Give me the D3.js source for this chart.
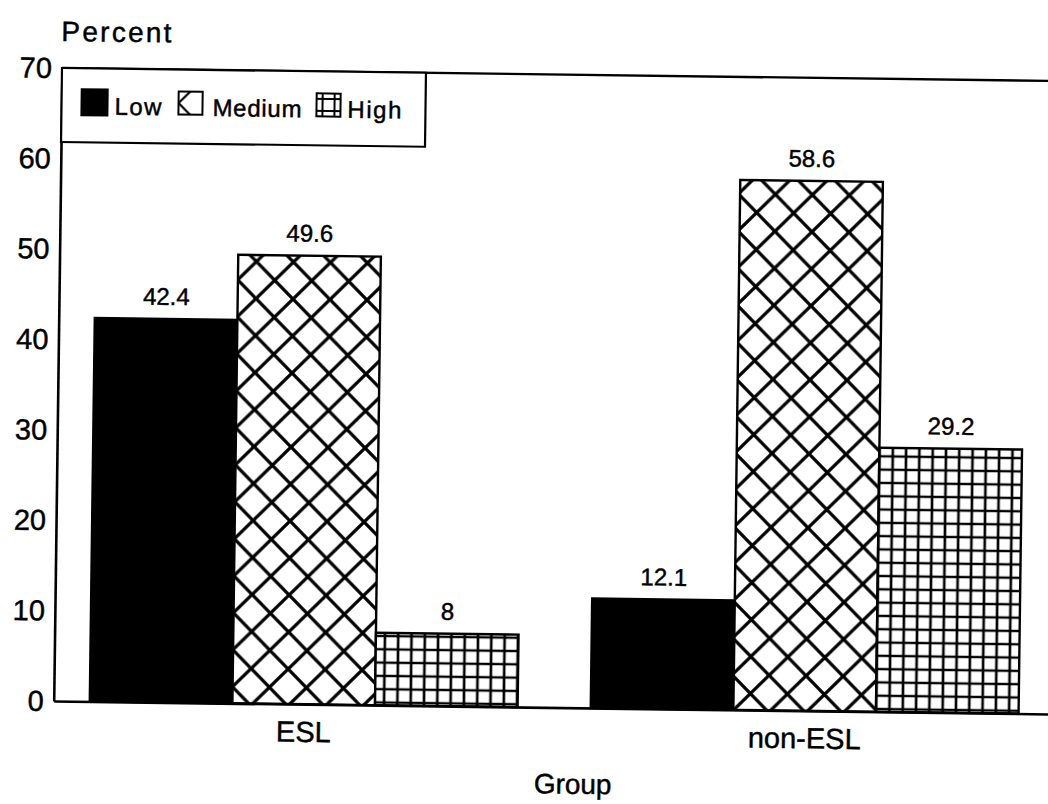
<!DOCTYPE html>
<html>
<head>
<meta charset="utf-8">
<script src="https://cdn.jsdelivr.net/npm/d3@7"></script>
<style>
  html, body { margin: 0; padding: 0; background: #fff; }
  svg { display: block; }
  text { font-family: "Liberation Sans", Arial, Helvetica, sans-serif; fill: #000; stroke: #000; stroke-width: 0.45px; }
</style>
</head>
<body>
<script>
// ---- data ----
const groups = ["ESL", "non-ESL"];
const series = ["Low", "Medium", "High"];
const lowValues = [42.4, 12.1];
const mediumValues = [49.6, 58.6];
const highValues = [8, 29.2];
const yTicks = [0, 10, 20, 30, 40, 50, 60, 70];
const yTitle = "Percent";
const xTitle = "Group";

const valuesBySeries = { Low: lowValues, Medium: mediumValues, High: highValues };

// ---- layout ----
const W = 1048, H = 804;
const mLeft = 62, mRight = 1063, mTop = 68, mBottom = 701;

const svg = d3.select("body").append("svg").attr("width", W).attr("height", H);
const defs = svg.append("defs");

// crosshatch (diamond) pattern
function hatchPattern(id, size, x, y, sw) {
  const p = defs.append("pattern").attr("id", id)
    .attr("patternUnits", "userSpaceOnUse")
    .attr("width", size).attr("height", size)
    .attr("x", x).attr("y", y);
  p.append("rect").attr("width", size).attr("height", size).attr("fill", "#fff");
  const s = size, e = 10;
  const d = [
    `M${-e},${-e}L${s + e},${s + e}`,
    `M${s - e},${-e}L${s + e},${e}`,
    `M${-e},${s - e}L${e},${s + e}`,
    `M${-e},${s + e}L${s + e},${-e}`,
    `M${-e},${e}L${e},${-e}`,
    `M${s - e},${s + e}L${s + e},${s - e}`
  ].join("");
  p.append("path").attr("d", d).attr("stroke", "#000").attr("stroke-width", sw).attr("fill", "none");
}
function gridPattern(id, size, x, y, sw) {
  const p = defs.append("pattern").attr("id", id)
    .attr("patternUnits", "userSpaceOnUse")
    .attr("width", size).attr("height", size)
    .attr("x", x).attr("y", y);
  p.append("rect").attr("width", size).attr("height", size).attr("fill", "#fff");
  p.append("path")
    .attr("d", `M${size / 2},0V${size}M0,${size / 2}H${size}`)
    .attr("stroke", "#000").attr("stroke-width", sw).attr("fill", "none");
}

hatchPattern("hatch", 37, 0, 0, 3.3);
gridPattern("grid", 13.3, 0, 0, 2.6);

const fills = { Low: "#000", Medium: "url(#hatch)", High: "url(#grid)" };

// whole chart slightly rotated like the scanned original
const g = svg.append("g").attr("transform", `rotate(0.75 ${mLeft} ${mTop})`);

// scales
const x0 = d3.scaleBand().domain(groups).range([mLeft, mRight])
  .paddingInner(0.146).paddingOuter(0.072);
const x1 = d3.scaleBand().domain(series).range([0, x0.bandwidth()]).padding(0);
const y = d3.scaleLinear().domain([0, 70]).range([mBottom, mTop]);

// top frame line
g.append("line").attr("x1", mLeft).attr("x2", mRight).attr("y1", mTop).attr("y2", mTop)
  .attr("stroke", "#000").attr("stroke-width", 2.4);

// bars
const rows = [];
groups.forEach((grp, i) => series.forEach(s => rows.push({ grp, s, v: valuesBySeries[s][i] })));

g.selectAll("rect.bar").data(rows).join("rect")
  .attr("class", "bar")
  .attr("x", d => x0(d.grp) + x1(d.s))
  .attr("y", d => y(d.v))
  .attr("width", x1.bandwidth())
  .attr("height", d => y(0) - y(d.v))
  .attr("fill", d => fills[d.s])
  .attr("stroke", "#000").attr("stroke-width", 2.4);

// value labels
g.selectAll("text.val").data(rows).join("text")
  .attr("class", "val")
  .attr("x", d => x0(d.grp) + x1(d.s) + x1.bandwidth() / 2)
  .attr("y", d => y(d.v) - 14)
  .attr("text-anchor", "middle")
  .attr("font-size", 24)
  .text(d => String(d.v));

// y axis
const yAxis = g.append("g").attr("transform", `translate(${mLeft},0)`)
  .call(d3.axisLeft(y).tickValues(yTicks).tickSize(0).tickSizeOuter(0).tickPadding(10).tickFormat(d3.format("d")));
yAxis.select(".domain").attr("stroke", "#000").attr("stroke-width", 2.6);
yAxis.selectAll("text").attr("font-size", 29).attr("font-family", null).attr("dy", "0.33em");

// x axis
const xAxis = g.append("g").attr("transform", `translate(0,${mBottom})`)
  .call(d3.axisBottom(x0).tickSize(0).tickSizeOuter(0).tickPadding(17));
xAxis.select(".domain").attr("stroke", "#000").attr("stroke-width", 2.6);
xAxis.selectAll("text").attr("font-size", 29).attr("font-family", null);

// axis titles
g.append("text").attr("x", 61).attr("y", 41).attr("font-size", 28)
  .attr("textLength", 110).text(yTitle);
g.append("text").attr("x", 582).attr("y", 787).attr("text-anchor", "middle")
  .attr("font-size", 28).text(xTitle);

// legend
const lg = g.append("g");
lg.append("rect").attr("x", mLeft).attr("y", mTop).attr("width", 364).attr("height", 74)
  .attr("fill", "#fff").attr("stroke", "#000").attr("stroke-width", 2.2);

const legendItems = [
  { s: "Low", sx: 82, sy: 89, sw: 26, sh: 26, tx: 115, tl: 47 },
  { s: "Medium", sx: 179, sy: 90, sw: 24, sh: 23, tx: 213, tl: 89 },
  { s: "High", sx: 317, sy: 90, sw: 24, sh: 23, tx: 348, tl: 54 }
];
hatchPattern("hatchLegend", 37, legendItems[1].sx, legendItems[1].sy + legendItems[1].sh / 2, 2.2);
gridPattern("gridLegend", 12, legendItems[2].sx, legendItems[2].sy - 0.5, 2);
const legendFill = { Low: "#000", Medium: "url(#hatchLegend)", High: "url(#gridLegend)" };

legendItems.forEach(it => {
  lg.append("rect").attr("x", it.sx).attr("y", it.sy).attr("width", it.sw).attr("height", it.sh)
    .attr("fill", legendFill[it.s]).attr("stroke", "#000").attr("stroke-width", 2);
  lg.append("text").attr("x", it.tx).attr("y", 114).attr("font-size", 24)
    .attr("textLength", it.tl).text(it.s);
});
</script>
</body>
</html>
